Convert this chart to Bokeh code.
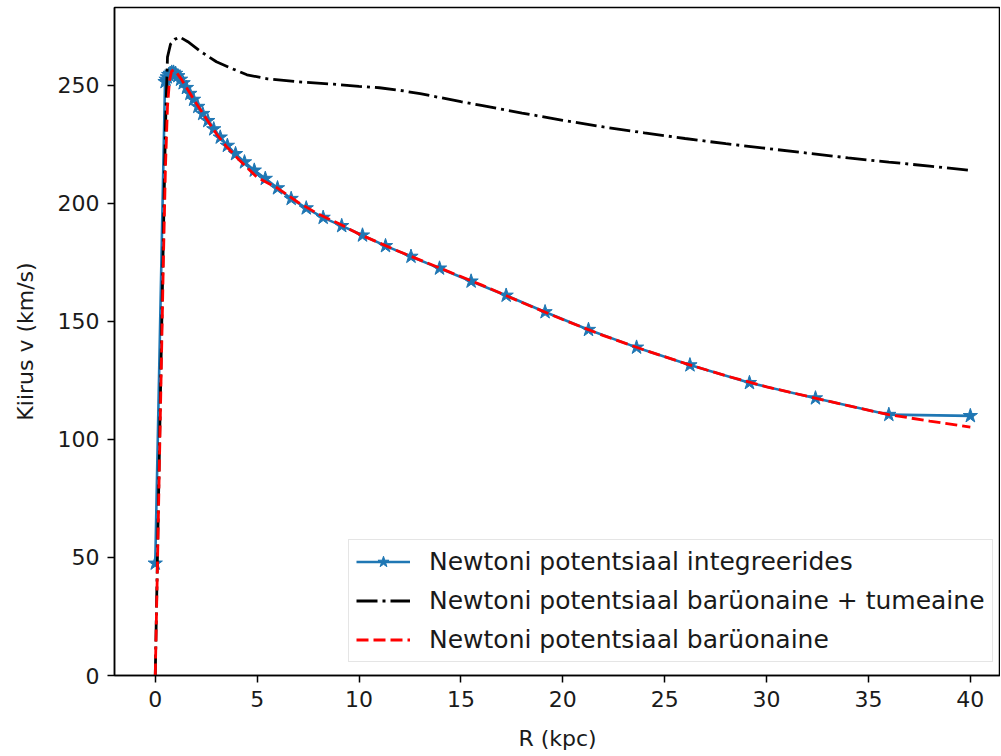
from bokeh.plotting import figure
from bokeh.models import Range1d, FixedTicker, Legend, LegendItem
from bokeh.embed import file_html
from bokeh.resources import INLINE

# --- data ---
# Newtoni potentsiaal integreerides (blue, stars)
blue_r = [0.0, 0.48, 0.53, 0.59, 0.66, 0.73, 0.81, 0.90, 1.00, 1.11, 1.24, 1.37,
          1.53, 1.70, 1.88, 2.09, 2.33, 2.58, 2.87, 3.19, 3.54, 3.94, 4.38, 4.86,
          5.40, 6.00, 6.67, 7.41, 8.24, 9.15, 10.17, 11.30, 12.55, 13.95, 15.50,
          17.22, 19.13, 21.26, 23.62, 26.24, 29.16, 32.40, 36.00, 40.00]
blue_v = [47.5, 251.5, 252.5, 253.5, 254.5, 255.0, 255.5, 255.5, 255.0, 254.0, 252.5, 251.0,
          249.0, 246.5, 244.0, 241.0, 238.0, 235.0, 231.5, 228.0, 224.5, 221.0, 217.5, 214.0,
          210.5, 206.5, 202.0, 198.0, 194.0, 190.5, 186.5, 182.0, 177.5, 172.5, 167.0,
          161.0, 154.0, 146.5, 139.0, 131.5, 124.0, 117.5, 110.5, 110.0]

# Newtoni potentsiaal barüonaine + tumeaine (black dash-dot)
dm_r = [0.0, 0.3, 0.5, 0.6, 0.75, 0.95, 1.2, 1.6, 2.2, 3.0, 3.8, 4.5, 5.5, 7.0, 8.75,
        10.0, 11.0, 12.0, 13.0, 14.0, 15.0, 16.0, 18.0, 20.0, 22.0, 24.0, 26.0, 28.0,
        30.0, 32.0, 34.0, 36.0, 38.0, 40.0]
dm_v = [0.0, 140.0, 232.0, 262.0, 267.5, 269.5, 270.5, 268.5, 264.5, 260.0, 257.0, 254.5,
        252.8, 251.5, 250.5, 249.6, 249.0, 247.9, 246.5, 244.8, 243.1, 241.5, 238.3, 235.2,
        232.4, 229.9, 227.5, 225.3, 223.3, 221.3, 219.3, 217.5, 215.8, 214.0]

# Newtoni potentsiaal barüonaine (red dashed)
bar_r = [0.0, 0.1, 0.2, 0.3, 0.4, 0.5, 0.6, 0.7, 0.8, 0.9, 1.0, 1.25, 1.5, 2.0, 2.5,
         3.0, 3.5, 4.0, 5.0, 6.0, 7.0, 8.0, 9.0, 10.0, 12.0, 14.0, 16.0, 18.0, 20.0,
         22.0, 24.0, 26.0, 28.0, 30.0, 32.0, 34.0, 36.0, 38.0, 40.0]
bar_v = [0.0, 43.0, 88.0, 132.0, 176.0, 215.0, 241.0, 252.0, 256.0, 256.5, 256.0, 253.0,
         249.5, 242.5, 236.0, 229.5, 224.0, 219.5, 211.0, 206.5, 200.5, 195.5, 191.5,
         187.0, 179.5, 172.5, 165.5, 158.0, 150.8, 144.0, 137.9, 132.2, 127.0, 122.3,
         118.3, 114.3, 110.5, 107.8, 105.2]

x_ticks = [0, 5, 10, 15, 20, 25, 30, 35, 40]
y_ticks = [0, 50, 100, 150, 200, 250]

FONT = "DejaVu Sans"
TXT = "#1a1a1a"

p = figure(width=1000, height=754, output_backend="svg", toolbar_location=None,
           x_range=Range1d(-2.0, 41.48), y_range=Range1d(0, 283.0),
           min_border_left=114, min_border_right=0, min_border_top=7, min_border_bottom=79)
p.background_fill_color = "white"
p.border_fill_color = "white"
p.outline_line_color = "black"
p.outline_line_width = 1.5
p.xgrid.visible = False
p.ygrid.visible = False

for ax in (p.xaxis[0], p.yaxis[0]):
    ax.axis_line_color = "black"
    ax.axis_line_width = 1.5
    ax.major_tick_line_color = "black"
    ax.major_tick_line_width = 1.5
    ax.major_tick_out = 7
    ax.major_tick_in = 0
    ax.minor_tick_line_color = None
    ax.major_label_text_font = FONT
    ax.major_label_text_font_size = "22px"
    ax.major_label_text_color = TXT
    ax.major_label_standoff = 8
    ax.axis_label_text_font = FONT
    ax.axis_label_text_font_size = "22px"
    ax.axis_label_text_font_style = "normal"
    ax.axis_label_text_color = TXT

p.xaxis.ticker = FixedTicker(ticks=x_ticks)
p.yaxis.ticker = FixedTicker(ticks=y_ticks)
p.xaxis.axis_label = "R (kpc)"
p.yaxis.axis_label = "Kiirus v (km/s)"
p.xaxis.axis_label_standoff = 16
p.yaxis.axis_label_standoff = 17

blue_line = p.line(blue_r, blue_v, line_color="#1f77b4", line_width=2.6)
blue_pts = p.scatter(blue_r, blue_v, marker="star", size=15, fill_color="#1f77b4",
                     line_color="#1f77b4", line_width=1)
black_line = p.line(dm_r, dm_v, line_color="black", line_width=2.8, line_dash="21 5 3 5")
red_line = p.line(bar_r, bar_v, line_color="#ff0000", line_width=2.8, line_dash="12 5")

legend = Legend(items=[
    LegendItem(label="Newtoni potentsiaal integreerides", renderers=[blue_line, blue_pts]),
    LegendItem(label="Newtoni potentsiaal barüonaine + tumeaine", renderers=[black_line]),
    LegendItem(label="Newtoni potentsiaal barüonaine", renderers=[red_line]),
], location=(234, 13))
legend.label_text_font = FONT
legend.label_text_font_size = "25px"
legend.label_text_color = TXT
legend.glyph_width = 54
legend.glyph_height = 29
legend.label_height = 29
legend.label_standoff = 19
legend.spacing = 10
legend.padding = 7
legend.margin = 0
legend.border_line_color = "#cccccc"
legend.border_line_width = 1.2
legend.background_fill_alpha = 0.85
p.add_layout(legend, "center")

open("out.html", "w").write(file_html(p, INLINE))
